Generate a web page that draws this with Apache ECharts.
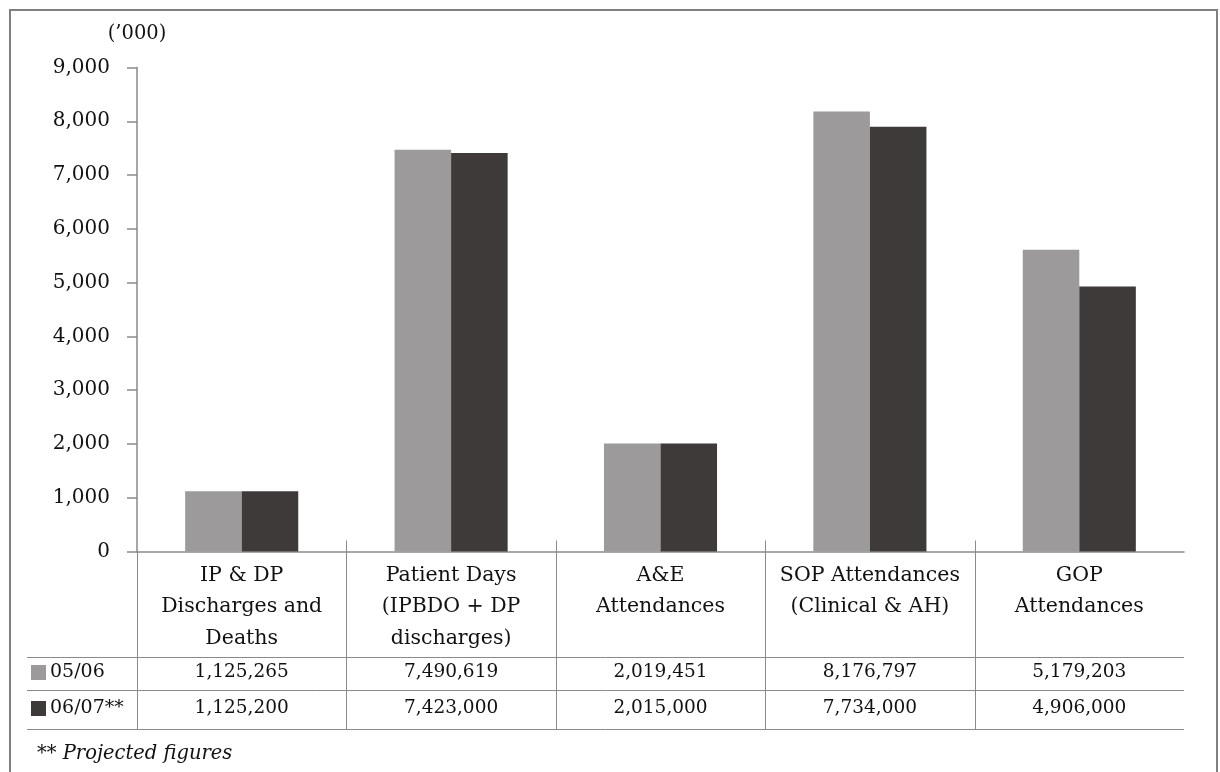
<!DOCTYPE html>
<html>
<head>
<meta charset="utf-8">
<script src="https://cdn.jsdelivr.net/npm/echarts@6/dist/echarts.min.js"></script>
<style>
  html, body { margin: 0; padding: 0; background: #fff; }
  #main { width: 1220px; height: 772px; }
</style>
</head>
<body>
<div id="main"></div>
<script>
// categories and the two periods
var categories = [
    'IP & DP\nDischarges and\nDeaths',
    'Patient Days\n(IPBDO + DP\ndischarges)',
    'A&E\nAttendances',
    'SOP Attendances\n(Clinical & AH)',
    'GOP\nAttendances'
];
var seriesNames = ['05/06', '06/07**'];

// bar heights as drawn ('000)
var bars0506 = [1120, 7470, 2010, 8180, 5610];
var bars0607 = [1120, 7410, 2010, 7900, 4930];

// figures printed in the table under the chart
var table0506 = [1125265, 7490619, 2019451, 8176797, 5179203];
var table0607 = [1125200, 7423000, 2015000, 7734000, 4906000];

var yTicks = { min: 0, max: 9000, interval: 1000 };

var FONT = 'DejaVu Serif';
var TXT = '#111';
var LINE = '#8a8a8a';

// layout
var plotL = 137, plotR = 1184, plotT = 67.5, axisY = 551.5;
var rowLines = [657, 690, 729];
var tableL = 27;

function fmt(v) { return Number(v).toLocaleString('en-US'); }

var chart = echarts.init(document.getElementById('main'));

// table lines and frame
var graphics = [];
graphics.push({
    type: 'rect', silent: true,
    shape: { x: 10, y: 10, width: 1207, height: 800 },
    style: { fill: 'none', stroke: '#808080', lineWidth: 2 }
});
rowLines.forEach(function (y) {
    graphics.push({
        type: 'line', silent: true,
        shape: { x1: tableL, y1: y + 0.5, x2: plotR, y2: y + 0.5 },
        style: { stroke: LINE, lineWidth: 1 }
    });
});
var step = (plotR - plotL) / categories.length;
for (var i = 0; i < categories.length; i++) {
    var x = Math.round(plotL + i * step) + 0.5;
    graphics.push({
        type: 'line', silent: true,
        shape: { x1: x, y1: i === 0 ? axisY : axisY - 11, x2: x, y2: rowLines[2] },
        style: { stroke: LINE, lineWidth: 1 }
    });
}
graphics.push({
    type: 'text', silent: true, left: 37, top: 744,
    style: { text: '** Projected figures', font: 'italic 19.5px "' + FONT + '"', fill: TXT }
});

var option = {
    animation: false,
    backgroundColor: '#fff',
    textStyle: { fontFamily: FONT, color: TXT },
    grid: { left: plotL, right: 1220 - plotR, top: plotT, bottom: 772 - axisY, containLabel: false },
    legend: {
        orient: 'vertical', left: 31, top: 663, padding: 0,
        itemWidth: 15, itemHeight: 15, itemGap: 17,
        icon: 'rect',
        data: seriesNames,
        textStyle: { fontFamily: FONT, fontSize: 19, color: TXT, lineHeight: 15, padding: [0, 0, 0, -1] }
    },
    xAxis: [
        {
            type: 'category', data: categories, position: 'bottom',
            axisLine: { show: true, lineStyle: { color: LINE, width: 1.5 } },
            axisTick: { show: false },
            axisLabel: { interval: 0, margin: 8, fontFamily: FONT, fontSize: 20.5, lineHeight: 31.5, color: TXT }
        },
        {
            type: 'category', data: table0506, position: 'bottom',
            axisLine: { show: false }, axisTick: { show: false },
            axisLabel: { interval: 0, margin: 111, fontFamily: FONT, fontSize: 18.5, lineHeight: 20, color: TXT, formatter: fmt }
        },
        {
            type: 'category', data: table0607, position: 'bottom',
            axisLine: { show: false }, axisTick: { show: false },
            axisLabel: { interval: 0, margin: 147, fontFamily: FONT, fontSize: 18.5, lineHeight: 20, color: TXT, formatter: fmt }
        }
    ],
    yAxis: {
        type: 'value', min: yTicks.min, max: yTicks.max, interval: yTicks.interval,
        name: '(\u2019000)', nameLocation: 'end', nameGap: 24,
        nameTextStyle: { fontFamily: FONT, fontSize: 19.5, color: TXT, align: 'center' },
        axisLine: { show: true, lineStyle: { color: LINE, width: 1.5 } },
        axisTick: { show: true, length: 10, lineStyle: { color: LINE, width: 1.5 } },
        splitLine: { show: false },
        axisLabel: { margin: 27, fontFamily: FONT, fontSize: 20, color: TXT, formatter: fmt }
    },
    series: [
        {
            name: seriesNames[0], type: 'bar', data: bars0506,
            barGap: '0%', barCategoryGap: '46%',
            itemStyle: { color: '#9c9a9b' }
        },
        {
            name: seriesNames[1], type: 'bar', data: bars0607,
            barGap: '0%', barCategoryGap: '46%',
            itemStyle: { color: '#3e3a39' }
        }
    ],
    graphic: graphics
};

chart.setOption(option);
</script>
</body>
</html>
